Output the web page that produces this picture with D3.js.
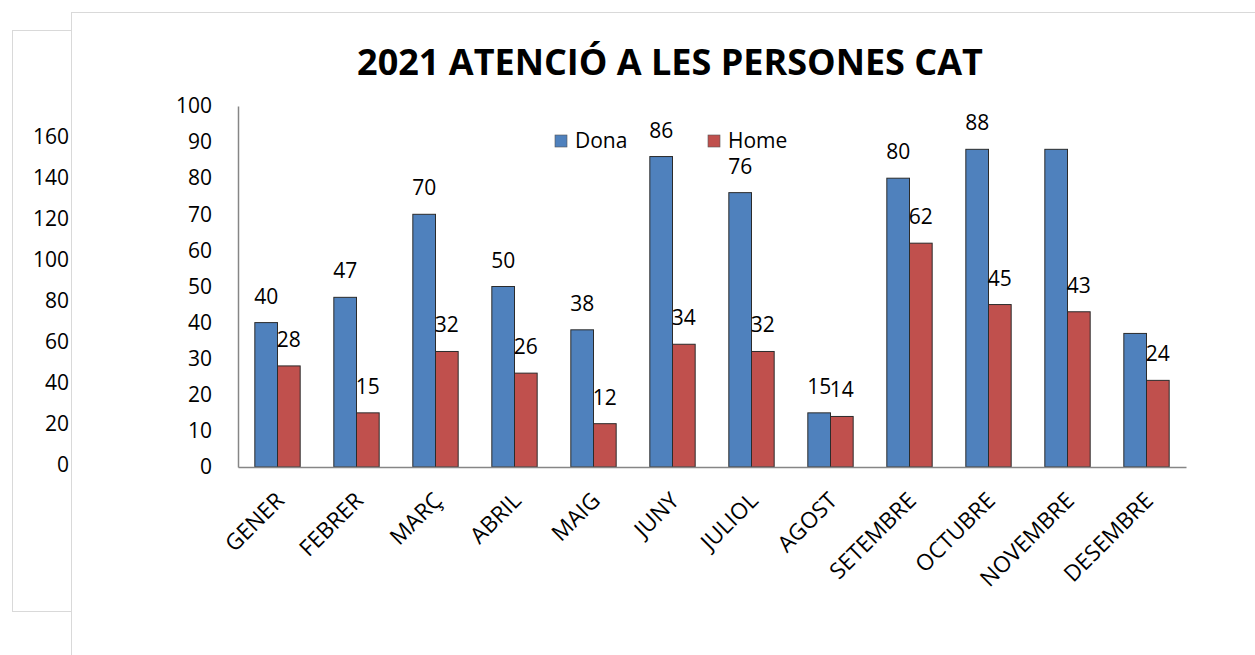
<!DOCTYPE html>
<html>
<head>
<meta charset="utf-8">
<script src="https://cdn.jsdelivr.net/npm/d3@7"></script>
<style>
  body { margin: 0; background: #fff; }
  text { font-family: "Open Sans", "Noto Sans", sans-serif; fill: #000; }
</style>
</head>
<body>
<script>
const months = ["GENER", "FEBRER", "MARÇ", "ABRIL", "MAIG", "JUNY", "JULIOL", "AGOST", "SETEMBRE", "OCTUBRE", "NOVEMBRE", "DESEMBRE"];
const series = ["Dona", "Home"];
const dona = [40, 47, 70, 50, 38, 86, 76, 15, 80, 88, 88, 37];
const home = [28, 15, 32, 26, 12, 34, 32, 14, 62, 45, 43, 24];
// months where the Dona label is not shown in the original
const donaNoLabel = ["NOVEMBRE", "DESEMBRE"];
const yTicks = [0, 10, 20, 30, 40, 50, 60, 70, 80, 90, 100];
const backTicks = [0, 20, 40, 60, 80, 100, 120, 140, 160];
const title = "2021 ATENCIÓ A LES PERSONES CAT";

const width = 1255,
      height = 655;

const colors = { Dona: "#4f81bd", Home: "#c0504d" };

const svg = d3.select("body")
    .append("svg")
    .attr("width", width)
    .attr("height", height);

// back panel (an older chart peeking out on the left)
svg.append("rect")
    .attr("x", 12.5).attr("y", 30.5)
    .attr("width", 80).attr("height", 581)
    .attr("fill", "#fff")
    .attr("stroke", "#d9d9d9");

const yBack = d3.scaleLinear()
    .domain([0, 160])
    .range([465, 137]);

svg.append("g")
    .attr("transform", "translate(69,0)")
    .selectAll("text")
    .data(backTicks)
    .enter().append("text")
      .attr("y", d => yBack(d))
      .attr("dy", "0.35em")
      .attr("text-anchor", "end")
      .attr("font-size", 21)
      .text(d => d);

// front panel
svg.append("rect")
    .attr("x", 71.5).attr("y", 12.5)
    .attr("width", 1300).attr("height", 700)
    .attr("fill", "#fff")
    .attr("stroke", "#d9d9d9");

svg.append("text")
    .attr("x", 670)
    .attr("y", 75)
    .attr("text-anchor", "middle")
    .attr("font-size", 36)
    .attr("font-weight", "bold")
    .text(title);

// scales
const x0 = d3.scaleBand()
    .domain(months)
    .range([238, 1186]);

const x1 = d3.scaleBand()
    .domain(series)
    .range([x0.bandwidth() * 0.213, x0.bandwidth() * 0.787]);

const y = d3.scaleLinear()
    .domain([0, 100])
    .range([467, 106]);

const rows = months.map((m, i) => ({ month: m, Dona: dona[i], Home: home[i] }));

// y axis
const yAxis = svg.append("g")
    .attr("transform", "translate(238,0)")
    .call(d3.axisLeft(y).tickValues(yTicks).tickSize(0).tickSizeOuter(0).tickPadding(26));
yAxis.select(".domain").attr("stroke", "#868686").attr("stroke-width", 1.5);
yAxis.selectAll("text").attr("font-size", 21).attr("fill", "#000");

// legend
const legend = svg.append("g").attr("class", "legend");
const legendX = { Dona: 555, Home: 708 };
series.forEach(s => {
  legend.append("rect")
      .attr("x", legendX[s]).attr("y", 135)
      .attr("width", 12).attr("height", 12)
      .attr("fill", colors[s])
      .attr("stroke", "#555")
      .attr("stroke-width", 0.6);
  legend.append("text")
      .attr("x", legendX[s] + 20)
      .attr("y", 148)
      .attr("font-size", 21)
      .text(s);
});

// bars
const groups = svg.append("g")
    .selectAll("g")
    .data(rows)
    .enter().append("g")
    .attr("transform", d => `translate(${x0(d.month)},0)`);

groups.selectAll("rect")
    .data(d => series.map(s => ({ key: s, value: d[s], month: d.month })))
    .enter().append("rect")
      .attr("x", d => x1(d.key))
      .attr("y", d => y(d.value))
      .attr("width", x1.bandwidth())
      .attr("height", d => y(0) - y(d.value))
      .attr("fill", d => colors[d.key])
      .attr("stroke", "#2b2b2b")
      .attr("stroke-width", 1);

groups.selectAll("text.value")
    .data(d => series.map(s => ({ key: s, value: d[s], month: d.month }))
      .filter(e => !(e.key === "Dona" && donaNoLabel.includes(e.month))))
    .enter().append("text")
      .attr("class", "value")
      .attr("x", d => x1(d.key) + x1.bandwidth() / 2)
      .attr("y", d => y(d.value) - 19)
      .attr("text-anchor", "middle")
      .attr("font-size", 21)
      .text(d => d.value);

// x axis
const xAxis = svg.append("g")
    .attr("transform", "translate(0,467)")
    .call(d3.axisBottom(x0).tickSize(0).tickSizeOuter(0));
xAxis.select(".domain").attr("stroke", "#868686").attr("stroke-width", 1.5);
xAxis.selectAll("text")
    .attr("font-size", 22.5)
    .attr("fill", "#000")
    .attr("text-anchor", "end")
    .attr("dy", 0)
    .attr("y", 0)
    .attr("transform", "translate(8,35) rotate(-45)");
</script>
</body>
</html>
